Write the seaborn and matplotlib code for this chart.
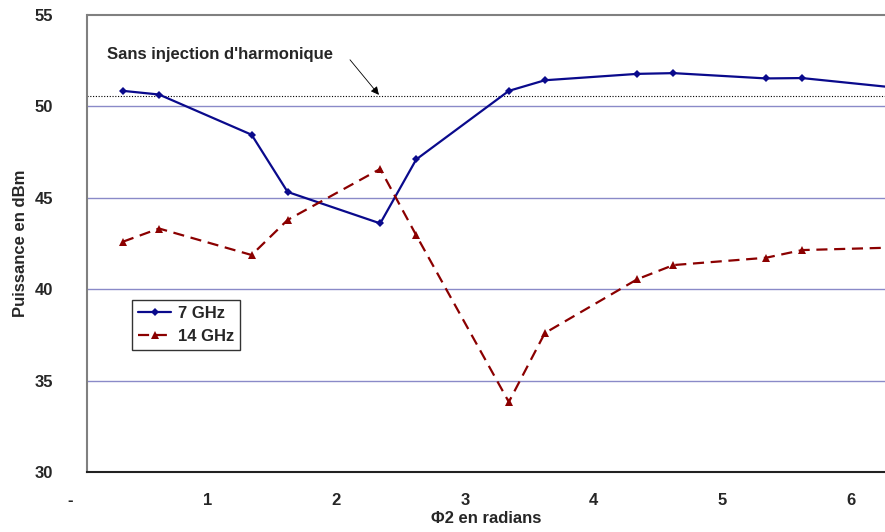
import numpy as np
import pandas as pd
import matplotlib
matplotlib.use("Agg")
from matplotlib import pyplot as plt
from matplotlib import transforms
import seaborn as sns

# data
phi = [0.28, 0.56, 1.28, 1.56, 2.28, 2.56, 3.28, 3.56, 4.28, 4.56, 5.28, 5.56, 6.28]
p7 = [50.85, 50.65, 48.45, 45.32, 43.6, 47.1, 50.85, 51.43, 51.78, 51.82, 51.53, 51.55, 51.03]
p14 = [42.6, 43.32, 41.87, 43.79, 46.58, 42.95, 33.83, 37.6, 40.55, 41.32, 41.72, 42.14, 42.28]
ref_level = 50.55
xticks = [0, 1, 2, 3, 4, 5, 6]
xticklabels = ["-", "1", "2", "3", "4", "5", "6"]
yticks = [30, 35, 40, 45, 50, 55]

df = pd.DataFrame({"phi": phi + phi,
                   "P": p7 + p14,
                   "serie": ["7 GHz"] * len(phi) + ["14 GHz"] * len(phi)})

sns.set_style("white")
plt.rcParams['font.family'] = ['Liberation Sans', 'DejaVu Sans']
plt.rcParams['font.weight'] = 'bold'

fig = plt.figure(figsize=(8.85, 5.32), dpi=100)
ax = fig.add_axes([87 / 885, 1 - 472 / 532, 1 - 87 / 885, (472 - 15) / 532])

grid_col = "#8a8ac8"
for yv in yticks[1:-1]:
    ax.axhline(yv, color=grid_col, lw=1.0, zorder=1)
ax.axhline(55, color="#808080", lw=1.5, zorder=1, clip_on=False)

blue = "#0a0a8c"
red = "#8b0000"
sns.lineplot(data=df[df.serie == "7 GHz"], x="phi", y="P", ax=ax, color=blue,
             marker="D", markersize=4.5, markeredgewidth=0, lw=1.6, label="7 GHz", zorder=3)
sns.lineplot(data=df[df.serie == "14 GHz"], x="phi", y="P", ax=ax, color=red,
             marker="^", markersize=6, markeredgewidth=0, lw=1.6, dashes=(5, 3),
             label="14 GHz", zorder=3)

# reference level without harmonic injection
ax.axhline(ref_level, color="black", lw=0.8, ls=(0, (1, 1.5)), zorder=2)
ax.text(0.155, 52.85, "Sans injection d'harmonique", fontsize=12, fontweight="bold",
        va="center", ha="left", zorder=4)
ax.annotate("", xy=(2.27, ref_level + 0.08), xytext=(2.045, 52.55),
            arrowprops=dict(arrowstyle="-|>", color="black", lw=0.6,
                            shrinkA=0, shrinkB=0, mutation_scale=12),
            zorder=4)

ax.set_xlim(0, 6.205)
ax.set_ylim(30, 55)
ax.set_xticks(xticks)
ax.set_xticklabels(xticklabels)
ax.set_yticks(yticks)
ax.tick_params(axis="x", direction="out", length=6, width=1, color="#555555",
               labelsize=12, pad=9)
ax.tick_params(axis="y", direction="out", length=7, width=1, color="#555555",
               labelsize=12, pad=24)
for lab in ax.get_yticklabels():
    lab.set_horizontalalignment("center")
for lab in ax.get_xticklabels():
    dx = -17 if lab.get_text() == "-" else -8
    lab.set_transform(lab.get_transform() +
                      transforms.ScaledTranslation(dx / 100, 0, fig.dpi_scale_trans))

for s in ["top", "right"]:
    ax.spines[s].set_visible(False)
ax.spines["left"].set_color("#808080")
ax.spines["left"].set_linewidth(1.5)
ax.spines["bottom"].set_color("#222222")
ax.spines["bottom"].set_linewidth(1.5)

ax.set_xlabel("Φ2 en radians", fontsize=12, fontweight="bold", labelpad=2)
ax.set_ylabel("Puissance en dBm", fontsize=12, fontweight="bold")
ax.yaxis.set_label_coords(-59 / 798, 0.5)

leg = ax.legend(loc="upper left", bbox_to_anchor=(45 / 798, (472 - 300) / 457),
                frameon=True, fancybox=False, edgecolor="black", fontsize=12,
                handlelength=2.0, handletextpad=0.4, borderpad=0.35,
                labelspacing=0.5, borderaxespad=0)
leg.get_frame().set_linewidth(1.0)

fig.savefig("out.png", dpi=100)
